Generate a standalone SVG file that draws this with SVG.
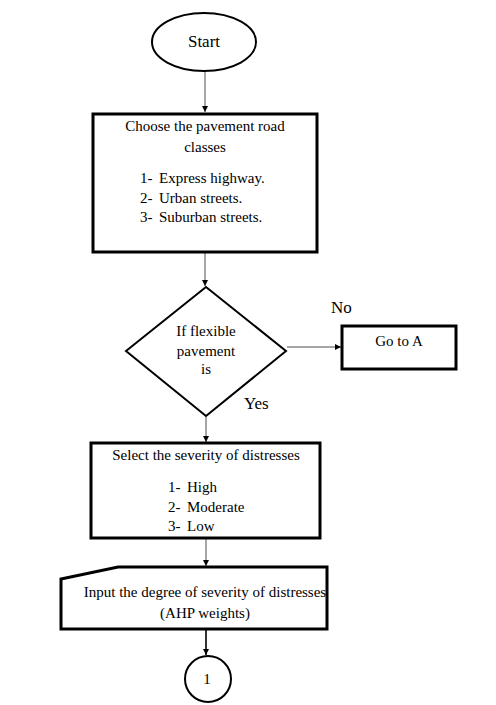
<svg xmlns="http://www.w3.org/2000/svg" width="496" height="705" viewBox="0 0 496 705">
<defs>
<style>
text{font-family:"Liberation Serif","Times New Roman",serif;font-size:15px;fill:#000}
.c{text-anchor:middle}
.lbl{font-size:17px}
.node{fill:#fff;stroke:#000}
.thick{stroke-width:3}
.thin{stroke-width:2}
.conn{stroke:#a6a6a6;stroke-width:2;fill:none}
.dark{stroke:#333}
</style>
<marker id="ah" markerWidth="8" markerHeight="8" refX="7" refY="4" orient="auto" markerUnits="userSpaceOnUse">
<path d="M1,1 L7,4 L1,7 Z" fill="#000"/>
</marker>
</defs>
<rect width="496" height="705" fill="#fff"/>
<g id="connectors">
<line class="conn" x1="205" y1="72" x2="205" y2="112" marker-end="url(#ah)"/>
<line class="conn" x1="205" y1="253" x2="205" y2="286" marker-end="url(#ah)"/>
<line class="conn" x1="287" y1="347" x2="341" y2="347" marker-end="url(#ah)"/>
<line class="conn" x1="206" y1="417" x2="206" y2="442" marker-end="url(#ah)"/>
<line class="conn" x1="206" y1="539" x2="206" y2="566" marker-end="url(#ah)"/>
<line class="conn dark" x1="206" y1="630" x2="206" y2="655" marker-end="url(#ah)"/>
</g>
<g id="start">
<ellipse class="node thin" cx="204" cy="42" rx="52" ry="29"/>
<text class="c lbl" x="204" y="47">Start</text>
</g>
<g id="choose">
<rect class="node thick" x="93" y="114" width="224" height="138"/>
<text class="c" x="205" y="131">Choose the pavement road</text>
<text class="c" x="205" y="152">classes</text>
<text x="140" y="183">1-</text><text x="159" y="183">Express highway.</text>
<text x="140" y="203">2-</text><text x="159" y="203">Urban streets.</text>
<text x="140" y="222">3-</text><text x="159" y="222">Suburban streets.</text>
</g>
<g id="decision">
<polygon class="node thin" points="206,287 286,351 206,416 126,351"/>
<text class="c" x="206" y="336">If flexible</text>
<text class="c" x="206" y="356">pavement</text>
<text class="c" x="206" y="374">is</text>
</g>
<text class="lbl" x="331" y="313">No</text>
<text class="lbl" x="244" y="409">Yes</text>
<g id="gotoA">
<rect class="node thick" x="342" y="326" width="114" height="43"/>
<text class="c" x="399" y="346">Go to A</text>
</g>
<g id="severity">
<rect class="node thick" x="91" y="443" width="229" height="95"/>
<text class="c" x="206" y="460">Select the severity of distresses</text>
<text x="168" y="492">1-</text><text x="187" y="492">High</text>
<text x="168" y="512">2-</text><text x="187" y="512">Moderate</text>
<text x="168" y="531">3-</text><text x="187" y="531">Low</text>
</g>
<g id="input">
<polygon class="node thick" points="61,579 118,567 327,567 327,629 61,629"/>
<text class="c" x="205" y="597">Input the degree of severity of distresses</text>
<text class="c" x="205" y="618">(AHP weights)</text>
</g>
<g id="connector1">
<circle class="node thin" cx="208" cy="679" r="23"/>
<text class="c" x="207" y="684">1</text>
</g>
</svg>
